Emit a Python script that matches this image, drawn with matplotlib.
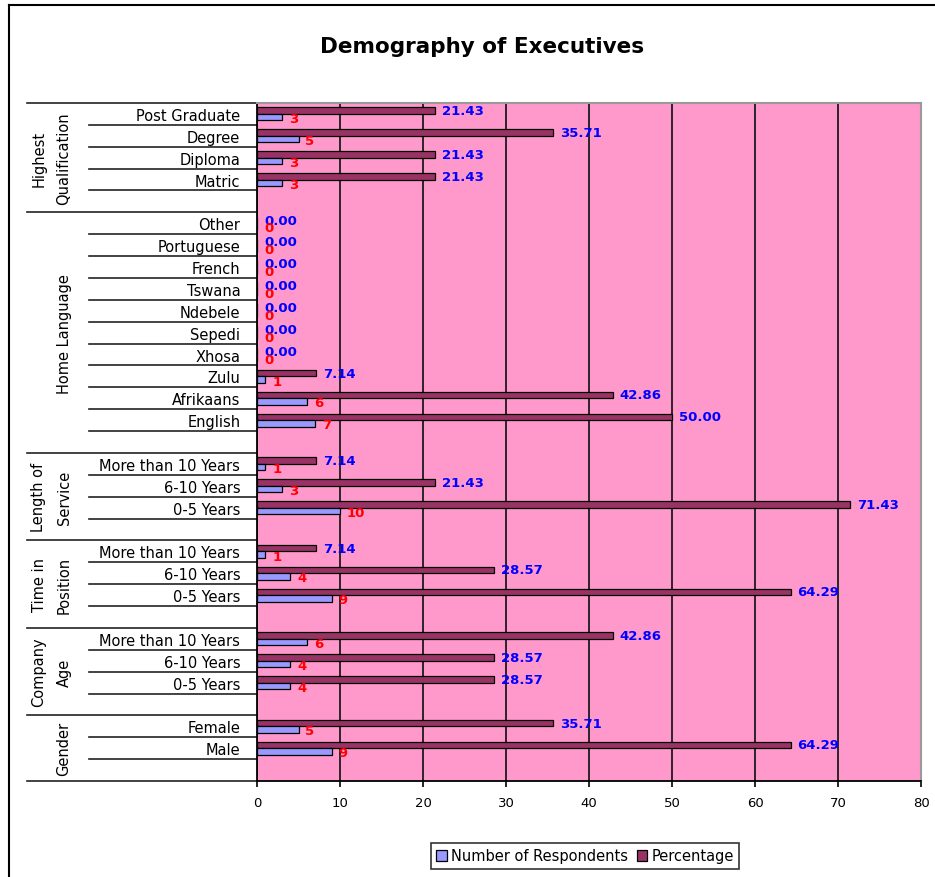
import matplotlib
matplotlib.use("Agg")
import matplotlib.pyplot as plt
import matplotlib.transforms as mtransforms
from matplotlib.patches import Patch
from matplotlib.lines import Line2D

# ---- data (groups listed top to bottom) ----
group_titles = [
    ["Highest", "Qualification"],
    ["Home Language"],
    ["Length of", "Service"],
    ["Time in", "Position"],
    ["Company", "Age"],
    ["Gender"],
]

qualification = ["Post Graduate", "Degree", "Diploma", "Matric"]
qualification_n = [3, 5, 3, 3]
qualification_pct = [21.43, 35.71, 21.43, 21.43]

language = ["Other", "Portuguese", "French", "Tswana", "Ndebele", "Sepedi",
            "Xhosa", "Zulu", "Afrikaans", "English"]
language_n = [0, 0, 0, 0, 0, 0, 0, 1, 6, 7]
language_pct = [0.00, 0.00, 0.00, 0.00, 0.00, 0.00, 0.00, 7.14, 42.86, 50.00]

service = ["More than 10 Years", "6-10 Years", "0-5 Years"]
service_n = [1, 3, 10]
service_pct = [7.14, 21.43, 71.43]

position = ["More than 10 Years", "6-10 Years", "0-5 Years"]
position_n = [1, 4, 9]
position_pct = [7.14, 28.57, 64.29]

company_age = ["More than 10 Years", "6-10 Years", "0-5 Years"]
company_age_n = [6, 4, 4]
company_age_pct = [42.86, 28.57, 28.57]

gender = ["Female", "Male"]
gender_n = [5, 9]
gender_pct = [35.71, 64.29]

groups = [
    (qualification, qualification_n, qualification_pct),
    (language, language_n, language_pct),
    (service, service_n, service_pct),
    (position, position_n, position_pct),
    (company_age, company_age_n, company_age_pct),
    (gender, gender_n, gender_pct),
]

series_names = ["Number of Respondents", "Percentage"]
x_ticks = list(range(0, 81, 10))

COL_N = "#9999FF"
COL_PCT = "#993366"
BG = "#FF99CC"

# ---- build rows: each group is followed by one empty row ----
labels, counts, pcts, centers = [], [], [], []
boundaries = [0]
row = 0
for cats, ns, ps in groups:
    for c, n, p in zip(cats, ns, ps):
        labels.append(c)
        counts.append(n)
        pcts.append(p)
        centers.append(row + 0.5)
        row += 1
    row += 1  # empty row
    boundaries.append(row)
n_rows = row

W, H = 935, 878
fig = plt.figure(figsize=(W / 100, H / 100), dpi=100)
ax = fig.add_axes([257 / W, 1 - 782 / H, 664 / W, 678 / H])
ax.set_facecolor(BG)
ax.set_xlim(0, 80)
ax.set_ylim(n_rows, 0)
ax.set_xticks(x_ticks)
ax.grid(axis="x", color="#1a1a1a", lw=1.3)
ax.set_axisbelow(True)

bh = 0.3
y_pct = [c - bh / 2 for c in centers]
y_n = [c + bh / 2 for c in centers]
ax.barh(y_pct, pcts, height=bh, color=COL_PCT, edgecolor="black", lw=0.9,
        zorder=3)
ax.barh(y_n, counts, height=bh, color=COL_N, edgecolor="black", lw=0.9,
        zorder=3)

for y, p in zip(y_pct, pcts):
    ax.annotate(f"{p:.2f}", (p, y), xytext=(5, 0), textcoords="offset points",
                va="center", ha="left", color="#0000FF", fontweight="bold",
                fontsize=9.5, zorder=5)
for y, n in zip(y_n, counts):
    ax.annotate(f"{n}", (n, y), xytext=(5, -1), textcoords="offset points",
                va="center", ha="left", color="#FF0000", fontweight="bold",
                fontsize=9.5, zorder=5)

# category labels
ax.set_yticks(centers)
ax.set_yticklabels(labels, fontsize=10.5)
ax.tick_params(axis="y", length=0, pad=12)
ax.tick_params(axis="x", direction="out", length=4, width=1.2,
               labelsize=9.5, pad=7)

for s in ("left", "bottom"):
    ax.spines[s].set_color("black")
    ax.spines[s].set_linewidth(1.3)
for s in ("top", "right"):
    ax.spines[s].set_color("#9a9a9a")
    ax.spines[s].set_linewidth(1.5)

# row and group separators in the label area
trans = mtransforms.blended_transform_factory(fig.transFigure, ax.transData)
for b in range(n_rows + 1):
    x0 = 27 / W if b in boundaries else 89 / W
    ax.plot([x0, 257 / W], [b, b], transform=trans, color="#222222", lw=1.2,
            clip_on=False, zorder=1)

# group titles
for title, start, end in zip(group_titles, boundaries[:-1], boundaries[1:]):
    ymid = (start + end) / 2
    xs = [39 / W, 64 / W] if len(title) == 2 else [64 / W]
    for x, line in zip(xs, title):
        ax.text(x, ymid, line, transform=trans, rotation=90, ha="center",
                va="center", fontsize=10.5, clip_on=False)

# title
fig.text(482 / W, 1 - 47 / H, "Demography of Executives", ha="center",
         va="center", fontsize=15.5, fontweight="bold")

# chart frame (left and top edges)
fig.add_artist(Line2D([9 / W, 9 / W], [0, 1 - 6 / H], transform=fig.transFigure,
                      color="black", lw=1.5))
fig.add_artist(Line2D([9 / W, 1], [1 - 6 / H, 1 - 6 / H],
                      transform=fig.transFigure, color="black", lw=1.5))

# legend
handles = [Patch(facecolor=COL_N, edgecolor="black", lw=0.9),
           Patch(facecolor=COL_PCT, edgecolor="black", lw=0.9)]
leg = fig.legend(handles, series_names, loc="center",
                 bbox_to_anchor=(585 / W, 1 - 857 / H), ncol=2, frameon=True,
                 fancybox=False, edgecolor="black", fontsize=10.5,
                 handlelength=0.7, handleheight=0.7, handletextpad=0.3,
                 columnspacing=0.6, borderpad=0.4)
leg.get_frame().set_linewidth(1.2)

fig.savefig("out.png", dpi=100)
